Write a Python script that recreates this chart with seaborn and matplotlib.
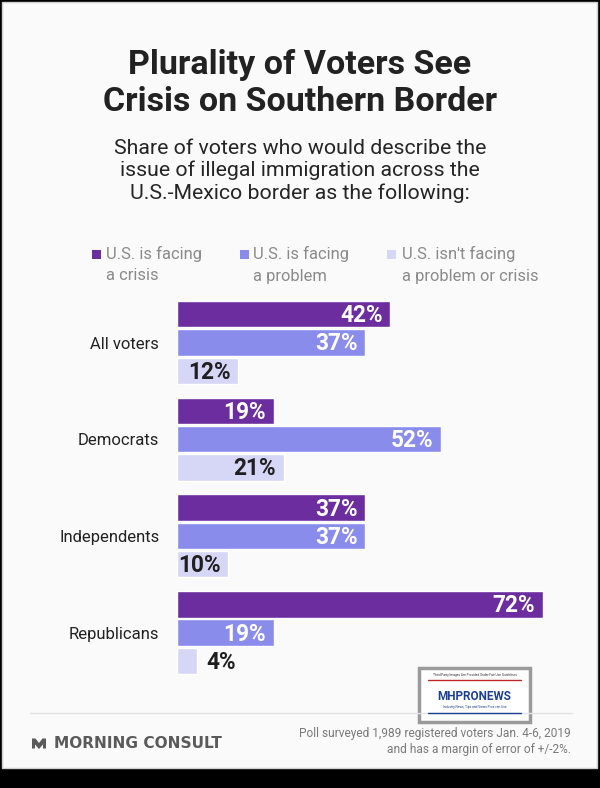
import pandas as pd
import seaborn as sns
import matplotlib.pyplot as plt
from matplotlib.patches import Rectangle, Polygon

# Datos
groups = ['All voters', 'Democrats', 'Independents', 'Republicans']
responses = ['U.S. is facing a crisis', 'U.S. is facing a problem',
             "U.S. isn't facing a problem or crisis"]
crisis = [42, 19, 37, 72]
problem = [37, 52, 37, 19]
no_issue = [12, 21, 10, 4]

legend_labels = ['U.S. is facing\na crisis', 'U.S. is facing\na problem',
                 "U.S. isn't facing\na problem or crisis"]
colors = ['#6C2D9E', '#8A8CEC', '#D6D6F6']
label_colors = ['white', 'white', '#1f1f1f']

W, H = 600, 788


def px(x, y):
    """pixel -> figure fraction"""
    return x / W, 1 - y / H


sns.set_theme(style='white')
plt.rcParams['font.family'] = ['Roboto', 'DejaVu Sans']

fig = plt.figure(figsize=(W / 100, H / 100), dpi=100, facecolor='black')

# card background
card = Rectangle(px(2, 768), 595 / W, 766 / H, transform=fig.transFigure,
                 facecolor='#FAFAFA', edgecolor='#cfcfcf', lw=1, zorder=-2)
fig.add_artist(card)

# titles
fig.text(*px(300, 74), 'Plurality of Voters See', ha='center', va='baseline',
         fontsize=24.5, fontweight='bold', color='#222222')
fig.text(*px(300, 111), 'Crisis on Southern Border', ha='center', va='baseline',
         fontsize=24.5, fontweight='bold', color='#222222')
subtitle = ['Share of voters who would describe the',
            'issue of illegal immigration across the',
            'U.S.-Mexico border as the following:']
for i, line in enumerate(subtitle):
    fig.text(*px(300, 153.5 + i * 22.6), line, ha='center', va='baseline',
             fontsize=15.3, color='#252525')

# legend
for (sx, tx), lab, c in zip([(92, 106), (240, 253), (387, 401.5)], legend_labels, colors):
    fig.add_artist(Rectangle(px(sx, 258.5), 9 / W, 9 / H, transform=fig.transFigure,
                             facecolor=c, edgecolor='none'))
    l1, l2 = lab.split('\n')
    fig.text(*px(tx, 259), l1, va='baseline', fontsize=11.9, color='#8a8a8a')
    fig.text(*px(tx, 280.5), l2, va='baseline', fontsize=11.9, color='#8a8a8a')

# bars
df = pd.DataFrame({
    'group': groups * 3,
    'response': [r for r in responses for _ in groups],
    'value': crisis + problem + no_issue,
})

x0, y0 = px(177, 681)
x1, y1 = px(583.4, 294.2)
ax = fig.add_axes([x0, y0, x1 - x0, y1 - y0])
ax.set_facecolor('none')

sns.barplot(data=df, y='group', x='value', hue='response', orient='h',
            palette=colors, saturation=1, width=0.878, gap=0.065,
            legend=False, ax=ax)

ax.set_xlim(0, 80)
ax.set_ylim(3.5, -0.5)
sns.despine(ax=ax, left=True, bottom=True)
ax.set_xticks([])
ax.set_xlabel('')
ax.set_ylabel('')
ax.tick_params(axis='y', length=0, pad=12.7, labelsize=12, labelcolor='#222222')

for container, vals, tc in zip(ax.containers, [crisis, problem, no_issue], label_colors):
    for bar, v in zip(container, vals):
        yc = bar.get_y() + bar.get_height() / 2
        if v >= 8:
            ax.annotate(f'{v}%', xy=(bar.get_width(), yc), xytext=(-5.3, -1),
                        textcoords='offset points', ha='right', va='center',
                        fontsize=16.3, fontweight='bold', color=tc)
        else:
            ax.annotate(f'{v}%', xy=(bar.get_width(), yc), xytext=(6.5, -1),
                        textcoords='offset points', ha='left', va='center',
                        fontsize=16.3, fontweight='bold', color='#1f1f1f')

# separator and footer
fig.add_artist(plt.Line2D([30 / W, 572 / W], [1 - 713 / H] * 2, transform=fig.transFigure,
                          color='#e2e2e2', lw=1))
logo = Polygon([px(32, 738.5), px(35.5, 738.5), px(39, 743), px(42.5, 738.5), px(46, 738.5),
                px(46, 748.5), px(43, 748.5), px(43, 744.5), px(39, 749), px(35, 744.5),
                px(35, 748.5), px(32, 748.5)], closed=True, transform=fig.transFigure,
               facecolor='#5a5a5a', edgecolor='none')
fig.add_artist(logo)
fig.text(*px(53.5, 748), 'MORNING CONSULT', va='baseline', fontsize=11.1,
         fontweight='bold', family='DejaVu Sans', color='#5a5a5a')
fig.text(*px(571, 737), 'Poll surveyed 1,989 registered voters Jan. 4-6, 2019',
         ha='right', va='baseline', fontsize=8.6, color='#7a7a7a')
fig.text(*px(571, 752.5), 'and has a margin of error of +/-2%.',
         ha='right', va='baseline', fontsize=8.6, color='#7a7a7a')

# watermark badge
fig.add_artist(Rectangle(px(419, 722), 111 / W, 54 / H, transform=fig.transFigure,
                         facecolor='white', edgecolor='#9a9a9a', lw=2.5))
fig.text(*px(474.5, 675), 'Third Party Images Are Provided Under Fair Use Guidelines',
         ha='center', va='center', fontsize=2.3, color='#333333')
fig.add_artist(plt.Line2D([428 / W, 521 / W], [1 - 680 / H] * 2, transform=fig.transFigure,
                          color='#c0282d', lw=1))
fig.text(*px(474.5, 696), 'MHPRONEWS', ha='center', va='center', fontsize=8.5,
         fontweight='bold', color='#1d3f8f')
fig.text(*px(474.5, 707), 'Industry News, Tips and Views Pros can Use',
         ha='center', va='center', fontsize=2.3, color='#1d3f8f')
fig.add_artist(plt.Line2D([428 / W, 521 / W], [1 - 713 / H] * 2, transform=fig.transFigure,
                          color='#1d3f8f', lw=1))

fig.savefig('out.png', dpi=100, facecolor='black')
